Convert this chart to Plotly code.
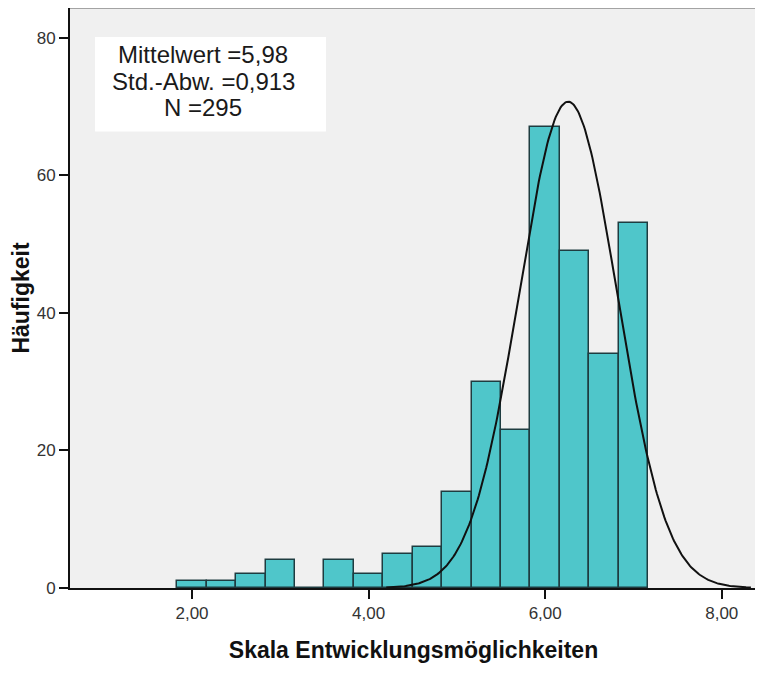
import numpy as np
import plotly.graph_objects as go

# --- data ---
bin_centers = [2.0, 7/3, 8/3, 3.0, 10/3, 11/3, 4.0, 13/3, 14/3, 5.0,
               16/3, 17/3, 6.0, 19/3, 20/3, 7.0]
counts = [1, 1, 2, 4, 0, 4, 2, 5, 6, 14, 30, 23, 67, 49, 34, 53]
bin_width = 1/3

# normal curve as drawn in the picture
curve_mean = 6.26
curve_sd = 0.555
curve_n = 295
curve_from, curve_to = 4.2, 8.33

stats_lines = ["Mittelwert =5,98", "Std.-Abw. =0,913", "N =295"]

x_tick_vals = [2, 4, 6, 8]
x_tick_text = ["2,00", "4,00", "6,00", "8,00"]
y_tick_vals = [0, 20, 40, 60, 80]
y_tick_text = ["0", "20", "40", "60", "80"]

x_title = "Skala Entwicklungsmöglichkeiten"
y_title = "Häufigkeit"

FONT = "Arial, Liberation Sans, sans-serif"

xs = np.linspace(curve_from, curve_to, 300)
ys = curve_n * bin_width / (curve_sd * np.sqrt(2 * np.pi)) * np.exp(-0.5 * ((xs - curve_mean) / curve_sd) ** 2)

fig = go.Figure()
fig.add_trace(go.Bar(
    x=bin_centers, y=counts, width=bin_width,
    marker=dict(color="#4FC6CA", line=dict(color="#1E3C40", width=1.5)),
    hoverinfo="x+y",
))
fig.add_trace(go.Scatter(
    x=xs, y=ys, mode="lines",
    line=dict(color="#111111", width=2),
    hoverinfo="skip",
))

# top and right frame lines (gray)
fig.add_shape(type="line", xref="paper", yref="paper", x0=0, x1=1, y0=1, y1=1,
              line=dict(color="#8a8a8a", width=1.5), layer="above")
fig.add_shape(type="line", xref="paper", yref="paper", x0=1, x1=1, y0=0, y1=1,
              line=dict(color="#8a8a8a", width=1.5), layer="above")

# statistics box
fig.add_shape(type="rect", xref="paper", yref="paper",
              x0=0.0364, x1=0.3726, y0=0.787, y1=0.950,
              fillcolor="white", line=dict(width=0), layer="above")
for txt, yy in zip(stats_lines, [0.920, 0.874, 0.829]):
    fig.add_annotation(xref="paper", yref="paper", x=0.1936, y=yy,
                       text=txt, showarrow=False, xanchor="center", yanchor="middle",
                       font=dict(family=FONT, size=24, color="#1a1a1a"))

# page body has an 8px margin, so the figure is sized to fit the window
fig.update_layout(
    width=755, height=659,
    margin=dict(l=62, r=6, t=0, b=79, autoexpand=False),
    paper_bgcolor="white",
    plot_bgcolor="#F0F0F0",
    showlegend=False,
    bargap=0,
    font=dict(family=FONT, color="#222222"),
)
fig.update_xaxes(
    range=[0.618, 8.399], tickvals=x_tick_vals, ticktext=x_tick_text,
    ticks="outside", ticklen=9, tickwidth=2, tickcolor="#111111",
    showline=True, linecolor="#111111", linewidth=2,
    showgrid=False, zeroline=False, automargin=False,
    tickfont=dict(family=FONT, size=17, color="#333333"),
    title=dict(text="<b>" + x_title + "</b>", font=dict(family=FONT, size=23, color="#111111"), standoff=19),
)
fig.update_yaxes(
    range=[0, 84.3], tickvals=y_tick_vals, ticktext=y_tick_text,
    ticks="outside", ticklen=9, tickwidth=2, tickcolor="#111111",
    showline=True, linecolor="#111111", linewidth=2,
    showgrid=False, zeroline=False, automargin=False,
    tickfont=dict(family=FONT, size=17, color="#333333"),
    title=dict(text="<b>" + y_title + "</b>", font=dict(family=FONT, size=23, color="#111111"), standoff=10),
)

fig.write_html("out.html")
